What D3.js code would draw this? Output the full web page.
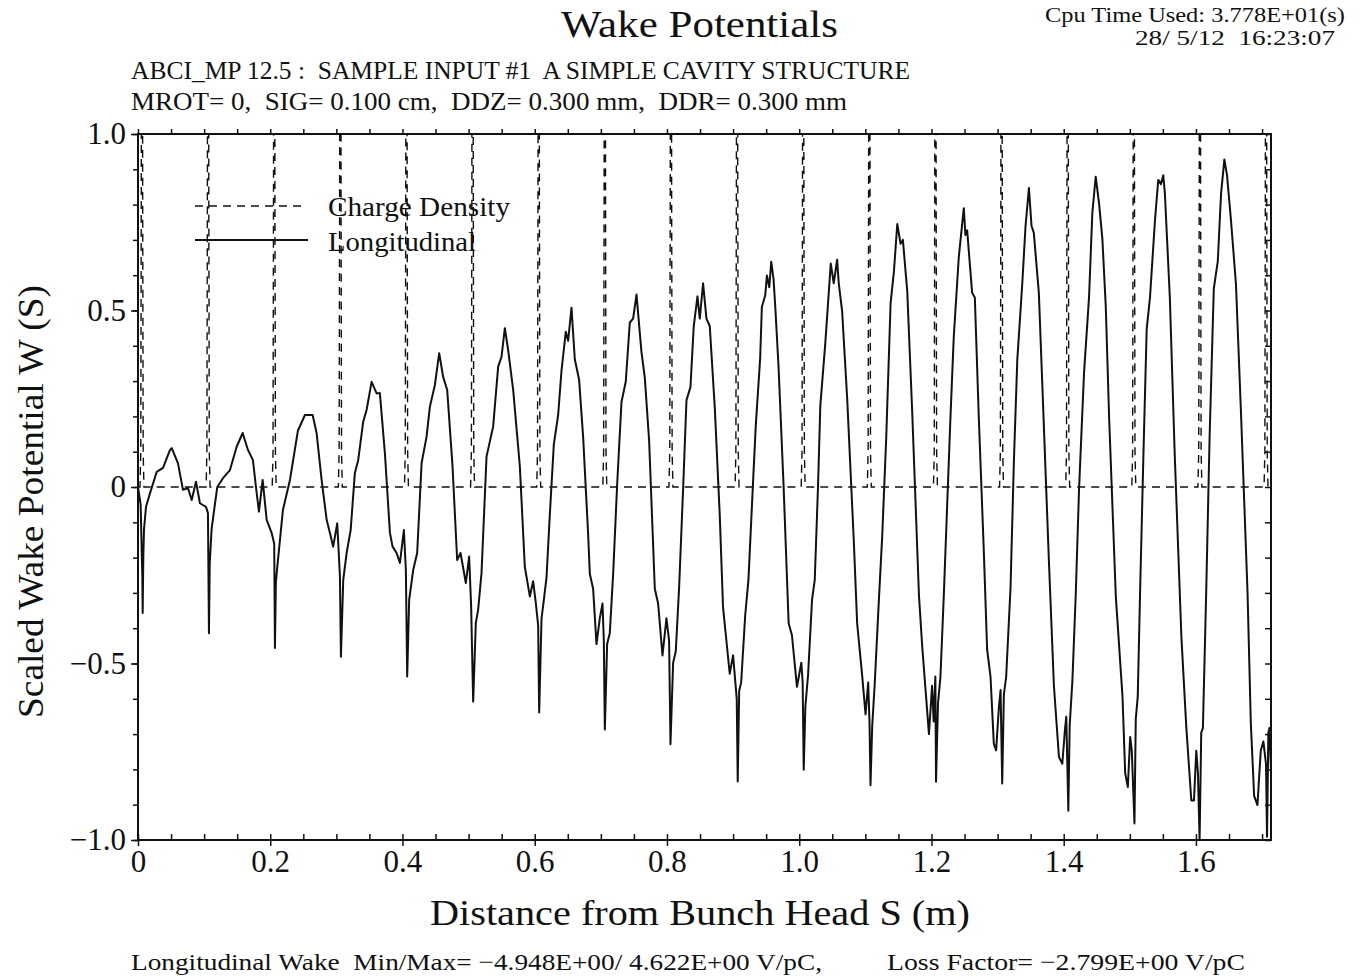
<!DOCTYPE html>
<meta http-equiv="Content-type" content="text/html; charset=UTF-8"/>
<style>
  body { margin: 0; background: #fff; }
  * { font-family: 'Liberation Serif', 'DejaVu Serif', serif; }
</style>
<svg width="1360" height="976"></svg>
<script src="https://d3js.org/d3.v7.min.js"></script>
<script>
// bunch centres of the charge density (m) and the shape of one bunch
var bunchCenters = [0.006, 0.106, 0.206, 0.306, 0.406, 0.506, 0.606, 0.706, 0.806,
                    0.906, 1.006, 1.106, 1.206, 1.306, 1.406, 1.506, 1.606, 1.706];
var bunchOffsets = [-0.003, -0.0018, -0.0011, -0.0006, 0, 0.0006, 0.0011, 0.0018, 0.003];
var bunchValues  = [0, 0.1, 0.8, 1.6, 2.2, 1.6, 0.8, 0.1, 0];

// longitudinal wake [S (m), W]
var wake = [
  [0.000, 0.00], [0.004, -0.05], [0.0065, -0.25], [0.0071, -0.357], [0.0080, -0.20], [0.0091, -0.12],
  [0.0121, -0.056], [0.0181, -0.018], [0.0283, 0.043], [0.0378, 0.054], [0.0484, 0.105], [0.051, 0.11],
  [0.0605, 0.067], [0.068, -0.008], [0.0756, -0.003], [0.0812, -0.037], [0.0877, 0.015], [0.0937, -0.046],
  [0.1028, -0.056], [0.1058, -0.074], [0.1073, -0.414], [0.1085, -0.215], [0.1114, -0.117], [0.1199, 0.0],
  [0.1285, 0.025], [0.1391, 0.048], [0.1492, 0.114], [0.1583, 0.153], [0.1663, 0.105], [0.1738, 0.076],
  [0.1784, 0.0], [0.1829, -0.07], [0.1885, 0.02], [0.1946, -0.093], [0.2021, -0.13], [0.2060, -0.16],
  [0.2071, -0.456], [0.2085, -0.27], [0.2106, -0.227], [0.2192, -0.065], [0.2298, 0.02], [0.2419, 0.16],
  [0.2525, 0.204], [0.2641, 0.204], [0.2701, 0.153], [0.2777, 0.02], [0.2853, -0.093], [0.2903, -0.130],
  [0.2952, -0.169], [0.3013, -0.103], [0.3054, -0.254], [0.3069, -0.481], [0.3104, -0.263], [0.3155, -0.187],
  [0.3216, -0.122], [0.328, 0.04], [0.333, 0.076], [0.3406, 0.185], [0.3457, 0.218], [0.3533, 0.298],
  [0.3609, 0.265], [0.3658, 0.266], [0.3734, 0.096], [0.381, -0.130], [0.385, -0.169], [0.3911, -0.187],
  [0.3961, -0.215], [0.4021, -0.122], [0.4051, -0.235], [0.4071, -0.537], [0.4101, -0.32], [0.4162, -0.235],
  [0.4222, -0.187], [0.4289, 0.068], [0.4364, 0.142], [0.4414, 0.227], [0.449, 0.289], [0.4555, 0.379],
  [0.4615, 0.312], [0.4676, 0.275], [0.4757, 0.058], [0.4827, -0.207], [0.4878, -0.187], [0.4958, -0.272],
  [0.5008, -0.197], [0.5038, -0.337], [0.5069, -0.608], [0.5109, -0.385], [0.5144, -0.348], [0.5195, -0.244],
  [0.5271, 0.086], [0.5371, 0.171], [0.5447, 0.341], [0.5498, 0.369], [0.5548, 0.45], [0.5598, 0.388],
  [0.5674, 0.275], [0.5775, 0.058], [0.585, -0.226], [0.5926, -0.31], [0.5976, -0.267], [0.6017, -0.33],
  [0.6052, -0.393], [0.6067, -0.639], [0.6103, -0.372], [0.6138, -0.32], [0.6178, -0.257], [0.6228, -0.079],
  [0.6289, 0.121], [0.6354, 0.204], [0.6405, 0.33], [0.647, 0.44], [0.6505, 0.414], [0.6556, 0.508],
  [0.6606, 0.362], [0.6671, 0.304], [0.6732, 0.142], [0.6807, -0.131], [0.6833, -0.246], [0.6883, -0.288],
  [0.6934, -0.445], [0.6984, -0.372], [0.7025, -0.33], [0.7045, -0.435], [0.706, -0.687], [0.7095, -0.445],
  [0.7135, -0.414], [0.7186, -0.246], [0.7246, 0.005], [0.7312, 0.241], [0.7377, 0.299], [0.7438, 0.466],
  [0.7488, 0.477], [0.7539, 0.545], [0.7614, 0.383], [0.7665, 0.309], [0.773, 0.131], [0.7816, -0.288],
  [0.7866, -0.33], [0.7932, -0.477], [0.7992, -0.372], [0.8032, -0.435], [0.8053, -0.729], [0.8093, -0.498],
  [0.8133, -0.466], [0.8184, -0.283], [0.8244, -0.005], [0.8295, 0.246], [0.8355, 0.283], [0.8405, 0.456],
  [0.8461, 0.54], [0.8496, 0.477], [0.8546, 0.577], [0.8597, 0.477], [0.8647, 0.456], [0.8723, 0.225],
  [0.8798, -0.079], [0.8848, -0.341], [0.8949, -0.529], [0.9, -0.477], [0.9055, -0.6], [0.907, -0.834],
  [0.9092, -0.577], [0.9122, -0.554], [0.9183, -0.364], [0.9232, -0.263], [0.9308, 0.039], [0.9343, 0.174],
  [0.9409, 0.364], [0.9435, 0.51], [0.9486, 0.543], [0.9511, 0.599], [0.9547, 0.566], [0.9577, 0.638],
  [0.9612, 0.588], [0.9638, 0.51], [0.9687, 0.342], [0.9763, 0.006], [0.984, -0.386], [0.989, -0.42],
  [0.9966, -0.566], [1.0032, -0.498], [1.0052, -0.554], [1.0068, -0.801], [1.0093, -0.622], [1.0134, -0.532],
  [1.0194, -0.319], [1.0235, -0.263], [1.0285, 0.006], [1.0319, 0.23], [1.0395, 0.409], [1.0436, 0.521],
  [1.0477, 0.633], [1.0522, 0.577], [1.0573, 0.644], [1.0598, 0.577], [1.0649, 0.498], [1.0725, 0.252],
  [1.0825, -0.151], [1.0876, -0.386], [1.0951, -0.532], [1.1003, -0.644], [1.1043, -0.554], [1.1063, -0.666],
  [1.1078, -0.845], [1.1104, -0.677], [1.1143, -0.554], [1.1205, -0.319], [1.1255, -0.14], [1.1316, 0.14],
  [1.1382, 0.521], [1.1432, 0.61], [1.1483, 0.745], [1.1533, 0.689], [1.1568, 0.7], [1.1634, 0.554],
  [1.171, 0.207], [1.1811, -0.308], [1.1861, -0.454], [1.1962, -0.7], [1.2009, -0.563], [1.2033, -0.664],
  [1.2059, -0.537], [1.2069, -0.835], [1.2099, -0.613], [1.2136, -0.537], [1.2186, -0.31], [1.2287, 0.196],
  [1.2337, 0.424], [1.2413, 0.651], [1.2489, 0.79], [1.2514, 0.714], [1.254, 0.727], [1.2615, 0.55],
  [1.2656, 0.537], [1.2716, 0.196], [1.2792, -0.183], [1.2842, -0.461], [1.2893, -0.537], [1.2943, -0.727],
  [1.2978, -0.746], [1.3019, -0.626], [1.3045, -0.575], [1.307, -0.84], [1.3095, -0.588], [1.313, -0.537],
  [1.3196, -0.284], [1.3246, 0.07], [1.3298, 0.36], [1.3373, 0.575], [1.3423, 0.74], [1.3474, 0.847],
  [1.3513, 0.74], [1.3548, 0.72], [1.3624, 0.55], [1.3675, 0.297], [1.3776, -0.209], [1.3852, -0.563],
  [1.3928, -0.765], [1.3979, -0.784], [1.4018, -0.689], [1.4039, -0.651], [1.407, -0.917], [1.409, -0.676],
  [1.4131, -0.55], [1.4181, -0.31], [1.4232, -0.006], [1.4307, 0.322], [1.4383, 0.537], [1.4433, 0.777],
  [1.4484, 0.879], [1.4535, 0.803], [1.4585, 0.702], [1.4636, 0.512], [1.4687, 0.196], [1.4788, -0.31],
  [1.4889, -0.593], [1.493, -0.811], [1.497, -0.85], [1.5005, -0.708], [1.503, -0.747], [1.507, -0.953],
  [1.509, -0.657], [1.512, -0.593], [1.5155, -0.298], [1.5205, 0.087], [1.5255, 0.447], [1.5305, 0.537],
  [1.538, 0.755], [1.543, 0.87], [1.547, 0.858], [1.5506, 0.883], [1.553, 0.832], [1.5605, 0.537],
  [1.568, 0.087], [1.578, -0.426], [1.5855, -0.683], [1.593, -0.888], [1.597, -0.888], [1.6005, -0.747],
  [1.603, -0.811], [1.6055, -1.0], [1.608, -0.696], [1.6105, -0.683], [1.6155, -0.298], [1.6206, 0.139],
  [1.627, 0.562], [1.633, 0.639], [1.638, 0.832], [1.643, 0.928], [1.647, 0.883], [1.653, 0.755],
  [1.6605, 0.575], [1.668, 0.216], [1.678, -0.298], [1.683, -0.67], [1.688, -0.875], [1.693, -0.901],
  [1.698, -0.747], [1.702, -0.721], [1.706, -0.786], [1.7075, -0.991], [1.7095, -0.696], [1.711, -0.683],
  [1.7135, -0.80]
];

var xDomain = [0, 1.7135];
var xTickValues = [0, 0.2, 0.4, 0.6, 0.8, 1.0, 1.2, 1.4, 1.6];
var xTickLabels = ["0", "0.2", "0.4", "0.6", "0.8", "1.0", "1.2", "1.4", "1.6"];
var xMinorTicks = d3.range(0, 1.7001, 0.05);
var yTickValues = [-1, -0.5, 0, 0.5, 1];
var yTickLabels = ["\u22121.0", "\u22120.5", "0", "0.5", "1.0"];
var yMinorTicks = d3.range(-1, 1.0001, 0.1);

var svg = d3.select("svg"),
    margin = {top: 134, right: 89, bottom: 136, left: 138},
    width = +svg.attr("width") - margin.left - margin.right,
    height = +svg.attr("height") - margin.top - margin.bottom,
    g = svg.append("g").attr("transform", "translate(" + margin.left + "," + margin.top + ")");

svg.insert("rect", ":first-child").attr("width", 1360).attr("height", 976).attr("fill", "#fff");

var x = d3.scaleLinear().domain(xDomain).range([0, width]);
var y = d3.scaleLinear().domain([-1, 1]).range([height, 0]);

g.append("clipPath").attr("id", "plot")
  .append("rect").attr("width", width).attr("height", height);

// charge density: each bunch drawn from the centre + profile arrays
var charge = [[0, 0]];
bunchCenters.forEach(function(c) {
  bunchOffsets.forEach(function(o, i) { charge.push([c + o, bunchValues[i]]); });
});
charge.push([xDomain[1], 0]);

var line = d3.line()
    .x(function(d) { return x(d[0]); })
    .y(function(d) { return y(d[1]); });

g.append("path")
    .datum(charge)
    .attr("clip-path", "url(#plot)")
    .attr("fill", "none")
    .attr("stroke", "#111")
    .attr("stroke-width", 1.4)
    .attr("stroke-dasharray", "8,6")
    .attr("d", line);

g.append("path")
    .datum(wake)
    .attr("clip-path", "url(#plot)")
    .attr("fill", "none")
    .attr("stroke", "#111")
    .attr("stroke-width", 2)
    .attr("stroke-linejoin", "round")
    .attr("d", line);

// axes and ticks
function clean(sel) { sel.select(".domain").remove(); sel.selectAll("line").attr("stroke", "#111").attr("stroke-width", 1.5); }

g.append("g").attr("transform", "translate(0," + height + ")")
    .call(d3.axisBottom(x).tickValues(xMinorTicks).tickSize(-6).tickFormat(""))
    .call(clean);
g.append("g").attr("transform", "translate(0," + height + ")")
    .call(d3.axisBottom(x).tickValues(xTickValues).tickSize(6).tickPadding(4)
      .tickFormat(function(d, i) { return xTickLabels[i]; }))
    .call(clean)
    .selectAll("text").attr("fill", "#111").style("font-size", "31px");
g.append("g")
    .call(d3.axisTop(x).tickValues(xMinorTicks).tickSize(5).tickFormat(""))
    .call(clean);

g.append("g")
    .call(d3.axisLeft(y).tickValues(yMinorTicks).tickSize(5).tickFormat(""))
    .call(clean);
g.append("g")
    .call(d3.axisLeft(y).tickValues(yTickValues).tickSize(7).tickPadding(5)
      .tickFormat(function(d, i) { return yTickLabels[i]; }))
    .call(clean)
    .selectAll("text").attr("fill", "#111").style("font-size", "31px");
g.append("g").attr("transform", "translate(" + width + ",0)")
    .call(d3.axisRight(y).tickValues(yMinorTicks).tickSize(-6).tickFormat(""))
    .call(clean);

g.append("rect")
    .attr("width", width).attr("height", height)
    .attr("fill", "none").attr("stroke", "#111").attr("stroke-width", 2);

// legend
g.append("line").attr("x1", 57).attr("x2", 167).attr("y1", 72).attr("y2", 72)
    .attr("stroke", "#111").attr("stroke-width", 1.4).attr("stroke-dasharray", "8,6");
g.append("line").attr("x1", 57).attr("x2", 170).attr("y1", 106).attr("y2", 106)
    .attr("stroke", "#111").attr("stroke-width", 2);

function label(px, py, str, size, len, anchor) {
  var t = svg.append("text")
      .attr("x", px).attr("y", py)
      .attr("fill", "#111")
      .attr("text-anchor", anchor || "start")
      .attr("xml:space", "preserve")
      .style("white-space", "pre")
      .style("font-size", size + "px")
      .text(str);
  if (len) t.attr("textLength", len).attr("lengthAdjust", "spacingAndGlyphs");
  return t;
}

label(328, 216, "Charge Density", 27, 182);
label(328, 251, "Longitudinal", 27, 148);

// titles
label(561, 37, "Wake Potentials", 38, 277);
label(1045, 22, "Cpu Time Used: 3.778E+01(s)", 20, 300);
label(1135, 45, "28/ 5/12  16:23:07", 20, 200);
label(131, 79, "ABCI_MP 12.5 :  SAMPLE INPUT #1  A SIMPLE CAVITY STRUCTURE", 26, 779);
label(131, 110, "MROT= 0,  SIG= 0.100 cm,  DDZ= 0.300 mm,  DDR= 0.300 mm", 26, 716);
label(430, 925, "Distance from Bunch Head S (m)", 36, 540);
label(0, 0, "Scaled Wake Potential W (S)", 36, 433)
    .attr("transform", "translate(43,718) rotate(-90)");
label(131, 970, "Longitudinal Wake  Min/Max= \u22124.948E+00/ 4.622E+00 V/pC,", 24, 691);
label(887, 970, "Loss Factor= \u22122.799E+00 V/pC", 24, 358);
</script>
